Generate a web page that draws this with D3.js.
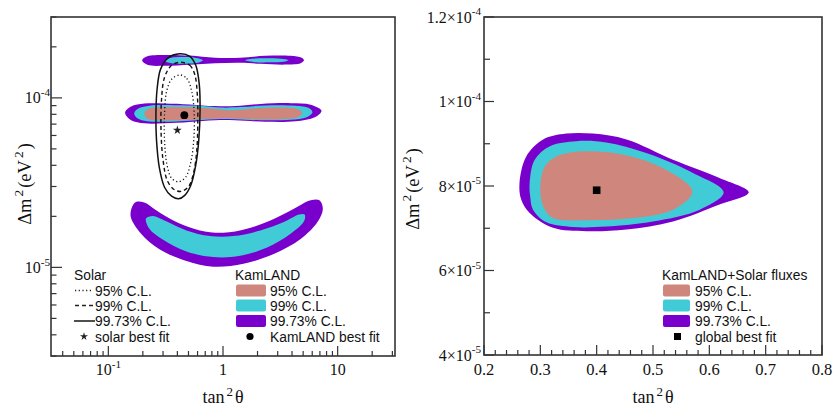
<!DOCTYPE html>
<html><head><meta charset="utf-8">
<script src="https://cdn.jsdelivr.net/npm/d3@7"></script>
<style>body{margin:0;background:#fff}svg{display:block}</style>
</head><body>
<svg id="c" width="835" height="409"></svg>
<script>
// ---------- DATA ----------
// Left panel: KamLAND allowed regions (tan^2 theta, Δm^2 in eV^2)
const kl9973Top = [[0.197,16.65e-5],[0.219,17.59e-5],[0.309,17.91e-5],[0.513,17.76e-5],[0.851,17.24e-5],[1.412,17.24e-5],[2.340,17.71e-5],[3.884,17.71e-5],[4.853,17.24e-5],[5.081,16.65e-5],[4.755,15.99e-5],[3.508,15.71e-5],[2.115,15.88e-5],[1.412,16.10e-5],[0.851,15.99e-5],[0.513,15.66e-5],[0.309,15.45e-5],[0.219,15.66e-5]];
const kl99TopA = [[0.309,16.54e-5],[0.356,17.24e-5],[0.464,17.40e-5],[0.603,17.12e-5],[0.667,16.65e-5],[0.603,16.10e-5],[0.464,15.92e-5],[0.356,15.99e-5]];
const kl99TopB = [[1.561,16.65e-5],[1.910,17.05e-5],[2.589,17.12e-5],[3.371,16.93e-5],[3.730,16.65e-5],[3.371,16.32e-5],[2.589,16.21e-5],[1.910,16.25e-5]];
const kl9973Mid = [[0.140,8.18e-5],[0.158,8.88e-5],[0.206,9.25e-5],[0.309,9.27e-5],[0.513,9.15e-5],[0.851,8.94e-5],[1.275,8.94e-5],[2.115,9.21e-5],[3.884,9.31e-5],[5.823,9.12e-5],[7.228,8.40e-5],[6.310,7.69e-5],[4.297,7.28e-5],[2.340,7.23e-5],[1.275,7.38e-5],[0.851,7.38e-5],[0.513,7.20e-5],[0.309,7.08e-5],[0.206,7.08e-5],[0.158,7.38e-5]];
const kl99Mid = [[0.168,8.12e-5],[0.186,8.70e-5],[0.228,9.00e-5],[0.378,9.06e-5],[0.628,8.98e-5],[0.980,8.76e-5],[1.412,8.82e-5],[2.340,9.03e-5],[4.297,8.98e-5],[5.594,8.70e-5],[6.026,8.23e-5],[5.370,7.69e-5],[3.884,7.43e-5],[2.115,7.38e-5],[1.275,7.48e-5],[0.851,7.48e-5],[0.513,7.33e-5],[0.309,7.23e-5],[0.219,7.28e-5],[0.179,7.59e-5]];
const kl95Mid = [[0.206,8.07e-5],[0.219,8.58e-5],[0.279,8.79e-5],[0.513,8.79e-5],[0.851,8.61e-5],[1.152,8.46e-5],[1.727,8.64e-5],[3.170,8.76e-5],[4.477,8.58e-5],[4.920,8.18e-5],[4.477,7.69e-5],[3.170,7.48e-5],[1.727,7.48e-5],[1.152,7.59e-5],[0.769,7.53e-5],[0.464,7.40e-5],[0.279,7.36e-5],[0.219,7.53e-5]];
const kl9973Low = [[0.174,2.43e-5],[0.206,2.41e-5],[0.261,2.17e-5],[0.392,1.85e-5],[0.628,1.65e-5],[1.006,1.60e-5],[1.616,1.69e-5],[2.589,1.89e-5],[4.153,2.22e-5],[5.823,2.49e-5],[6.932,2.49e-5],[7.425,2.22e-5],[6.668,1.85e-5],[4.755,1.47e-5],[2.770,1.20e-5],[1.509,1.05e-5],[0.822,1.01e-5],[0.480,1.09e-5],[0.279,1.28e-5],[0.193,1.58e-5],[0.157,1.98e-5],[0.161,2.27e-5]];
const kl99Low = [[0.213,1.94e-5],[0.244,2.01e-5],[0.320,1.87e-5],[0.480,1.65e-5],[0.769,1.53e-5],[1.232,1.53e-5],[2.115,1.65e-5],[3.391,1.85e-5],[4.596,2.05e-5],[5.157,2.05e-5],[5.086,1.87e-5],[3.884,1.58e-5],[2.423,1.31e-5],[1.412,1.17e-5],[0.822,1.15e-5],[0.480,1.24e-5],[0.298,1.46e-5],[0.228,1.69e-5]];
// Solar contours
const solar9973 = [[0.419,18.20e-5],[0.513,17.59e-5],[0.579,15.56e-5],[0.621,12.00e-5],[0.631,8.52e-5],[0.615,5.65e-5],[0.579,4.02e-5],[0.524,3.05e-5],[0.464,2.66e-5],[0.410,2.54e-5],[0.356,2.63e-5],[0.309,2.97e-5],[0.279,3.85e-5],[0.263,5.65e-5],[0.260,7.96e-5],[0.266,11.20e-5],[0.285,14.73e-5],[0.328,17.12e-5]];
const solar99 = [[0.428,16.21e-5],[0.513,15.56e-5],[0.567,13.75e-5],[0.597,10.46e-5],[0.603,7.43e-5],[0.591,4.93e-5],[0.556,3.65e-5],[0.503,3.01e-5],[0.436,2.81e-5],[0.378,2.87e-5],[0.328,3.23e-5],[0.300,4.30e-5],[0.288,6.48e-5],[0.291,9.77e-5],[0.309,13.20e-5],[0.356,15.56e-5]];
const solar95 = [[0.419,13.66e-5],[0.483,13.02e-5],[0.534,10.90e-5],[0.561,7.96e-5],[0.556,5.65e-5],[0.524,4.18e-5],[0.473,3.41e-5],[0.410,3.20e-5],[0.356,3.36e-5],[0.325,4.02e-5],[0.309,5.65e-5],[0.309,7.96e-5],[0.322,10.90e-5],[0.356,12.85e-5]];
const solarBest = [0.40, 6.45e-5];
const kamlandBest = [0.46, 7.9e-5];
// Right panel: KamLAND + Solar fluxes
const glob9973 = [[0.263,8.07e-5],[0.275,8.70e-5],[0.305,9.10e-5],[0.346,9.24e-5],[0.3935,9.24e-5],[0.453,9.10e-5],[0.5355,8.62e-5],[0.618,8.19e-5],[0.670,7.85e-5],[0.618,7.56e-5],[0.5355,7.16e-5],[0.453,6.97e-5],[0.382,6.93e-5],[0.3225,7.01e-5],[0.281,7.36e-5],[0.266,7.68e-5]];
const glob99 = [[0.281,8.07e-5],[0.290,8.62e-5],[0.317,8.94e-5],[0.364,9.06e-5],[0.417,9.03e-5],[0.488,8.78e-5],[0.571,8.31e-5],[0.6255,7.85e-5],[0.583,7.44e-5],[0.500,7.16e-5],[0.417,7.04e-5],[0.358,7.03e-5],[0.311,7.14e-5],[0.287,7.44e-5],[0.282,7.75e-5]];
const glob95 = [[0.300,7.99e-5],[0.308,8.46e-5],[0.3285,8.70e-5],[0.376,8.82e-5],[0.441,8.76e-5],[0.512,8.46e-5],[0.570,7.87e-5],[0.5355,7.44e-5],[0.4645,7.24e-5],[0.382,7.19e-5],[0.3225,7.24e-5],[0.305,7.52e-5]];
const globalBest = [0.40, 7.9e-5];
// Ticks / labels
const leftXMajor = [0.1, 1, 10];
const leftXLabels = [["10","-1"],["1",""],["10",""]];
const leftYMajor = [1e-5, 1e-4];
const leftYLabels = [["10","-5"],["10","-4"]];
const rightXMajor = [0.2,0.3,0.4,0.5,0.6,0.7,0.8];
const rightXLabels = ["0.2","0.3","0.4","0.5","0.6","0.7","0.8"];
const rightXMinor = [0.22,0.24,0.26,0.28,0.32,0.34,0.36,0.38,0.42,0.44,0.46,0.48,0.52,0.54,0.56,0.58,0.62,0.64,0.66,0.68,0.72,0.74,0.76,0.78];
const rightYMajor = [4e-5,6e-5,8e-5,1e-4,1.2e-4];
const rightYLabels = [["4\u00d710","-5"],["6\u00d710","-5"],["8\u00d710","-5"],["1\u00d710","-4"],["1.2\u00d710","-4"]];
const rightYMinor = [5e-5,7e-5,9e-5,1.1e-4];
const clLabels = ["95% C.L.","99% C.L.","99.73% C.L."];
const colors = {c95:"#cf877d", c99:"#41cbd6", c9973:"#7900cc"};

// ---------- DRAW ----------
const svg = d3.select("#c");
const serif = "'Liberation Serif','Times New Roman',serif";
const sans = "'Liberation Sans',Arial,Helvetica,sans-serif";

const L = {x0:51,x1:395,y0:17,y1:356};
const R = {x0:484,x1:822,y0:17,y1:355};
const xL = d3.scaleLog().domain([Math.pow(10,-1.5),Math.pow(10,1.5)]).range([L.x0,L.x1]);
const yL = d3.scaleLog().domain([3e-6,3e-4]).range([L.y1,L.y0]);
const xR = d3.scaleLinear().domain([0.2,0.8]).range([R.x0,R.x1]);
const yR = d3.scaleLinear().domain([4e-5,1.2e-4]).range([R.y1,R.y0]);

const defs = svg.append("defs");
defs.append("clipPath").attr("id","clipL").append("rect").attr("x",L.x0).attr("y",L.y0).attr("width",L.x1-L.x0).attr("height",L.y1-L.y0);
defs.append("clipPath").attr("id","clipR").append("rect").attr("x",R.x0).attr("y",R.y0).attr("width",R.x1-R.x0).attr("height",R.y1-R.y0);

function shape(g, pts, xs, ys, fill){
  const line = d3.line().x(d=>xs(d[0])).y(d=>ys(d[1])).curve(d3.curveCatmullRomClosed.alpha(0.5));
  return g.append("path").attr("d", line(pts)).attr("fill", fill||"none");
}

// Left panel
const gL = svg.append("g").attr("clip-path","url(#clipL)");
[kl9973Top,kl9973Mid,kl9973Low].forEach(p=>shape(gL,p,xL,yL,colors.c9973));
[kl99TopA,kl99TopB,kl99Mid,kl99Low].forEach(p=>shape(gL,p,xL,yL,colors.c99));
shape(gL,kl95Mid,xL,yL,colors.c95);
shape(gL,solar9973,xL,yL).attr("stroke","#111").attr("stroke-width",1.5);
shape(gL,solar99,xL,yL).attr("stroke","#111").attr("stroke-width",1.4).attr("stroke-dasharray","4,3");
shape(gL,solar95,xL,yL).attr("stroke","#111").attr("stroke-width",1.3).attr("stroke-dasharray","1.2,2.5");
gL.append("path").attr("d",d3.symbol(d3.symbolStar,24)()).attr("transform",`translate(${xL(solarBest[0])},${yL(solarBest[1])})`).attr("fill","#222");
gL.append("circle").attr("cx",xL(kamlandBest[0])).attr("cy",yL(kamlandBest[1])).attr("r",3.9).attr("fill","#000");

// Right panel
const gR = svg.append("g").attr("clip-path","url(#clipR)");
shape(gR,glob9973,xR,yR,colors.c9973);
shape(gR,glob99,xR,yR,colors.c99);
shape(gR,glob95,xR,yR,colors.c95);
gR.append("rect").attr("x",xR(globalBest[0])-3.8).attr("y",yR(globalBest[1])-3.8).attr("width",7.6).attr("height",7.6).attr("fill","#000");

// Axes (inward ticks)
function ticksX(xs, vals, y, len){ svg.append("g").selectAll("line").data(vals).join("line")
  .attr("x1",d=>xs(d)).attr("x2",d=>xs(d)).attr("y1",y).attr("y2",y-len).attr("stroke","#333").attr("stroke-width",1.2); }
function ticksY(ys, vals, x, len){ svg.append("g").selectAll("line").data(vals).join("line")
  .attr("y1",d=>ys(d)).attr("y2",d=>ys(d)).attr("x1",x).attr("x2",x+len).attr("stroke","#333").attr("stroke-width",1.2); }

const lxMinor = xL.ticks().filter(v=>!leftXMajor.some(m=>Math.abs(m-v)/m<1e-6));
const lyMinor = yL.ticks().filter(v=>!leftYMajor.some(m=>Math.abs(m-v)/m<1e-6));
ticksX(xL, leftXMajor, L.y1, 10); ticksX(xL, lxMinor, L.y1, 5);
ticksY(yL, leftYMajor, L.x0, 11); ticksY(yL, lyMinor, L.x0, 5.5);
ticksX(xR, rightXMajor, R.y1, 10); ticksX(xR, rightXMinor, R.y1, 5);
ticksY(yR, rightYMajor, R.x0, 10); ticksY(yR, rightYMinor, R.x0, 6);

// frames
[L,R].forEach(f=>svg.append("rect").attr("x",f.x0).attr("y",f.y0).attr("width",f.x1-f.x0).attr("height",f.y1-f.y0)
  .attr("fill","none").attr("stroke","#333").attr("stroke-width",1.6));

function supText(x,y,base,exp,anchor,size){
  const t = svg.append("text").attr("x",x).attr("y",y).attr("text-anchor",anchor).attr("font-family",serif).attr("font-size",size).attr("fill","#111");
  t.append("tspan").text(base);
  if(exp) t.append("tspan").attr("dy",-size*0.45).attr("font-size",size*0.7).text(exp);
  return t;
}
leftXMajor.forEach((v,i)=>supText(xL(v),375,leftXLabels[i][0],leftXLabels[i][1],"middle",16));
leftYMajor.forEach((v,i)=>supText(50,yL(v)+5.5,leftYLabels[i][0],leftYLabels[i][1],"end",16));
rightXMajor.forEach((v,i)=>supText(xR(v),375,rightXLabels[i],"","middle",16.5));
rightYMajor.forEach((v,i)=>supText(481,yR(v)+5.5,rightYLabels[i][0],rightYLabels[i][1],"end",16));

// axis titles
function tanTitle(cx){
  const t = svg.append("text").attr("x",cx).attr("y",403).attr("text-anchor","middle").attr("font-family",serif).attr("font-size",18).attr("fill","#111");
  t.append("tspan").text("tan");
  t.append("tspan").attr("dy",-7.5).attr("dx",2).attr("font-size",13).text("2");
  t.append("tspan").attr("dy",7.5).attr("dx",2).text("\u03b8");
}
tanTitle((L.x0+L.x1)/2); tanTitle((R.x0+R.x1)/2);
function dmTitle(cx,cy){
  const t = svg.append("text").attr("transform",`translate(${cx},${cy}) rotate(-90)`).attr("text-anchor","middle")
    .attr("font-family",serif).attr("font-size",18.5).attr("fill","#111");
  t.append("tspan").text("\u0394m");
  t.append("tspan").attr("dy",-8).attr("dx",2).attr("font-size",13.5).text("2");
  t.append("tspan").attr("dy",8).attr("dx",2).text("(eV");
  t.append("tspan").attr("dy",-8).attr("dx",2).attr("font-size",13.5).text("2");
  t.append("tspan").attr("dy",8).attr("dx",2).text(")");
}
dmTitle(31,184); dmTitle(419,189);

// Legends
function lt(x,y,s){ return svg.append("text").attr("x",x).attr("y",y).attr("font-family",sans).attr("font-size",13.8).attr("fill","#111").text(s); }
const legY = [290.5,305.5,321,336.5];
// Solar legend
lt(74,280,"Solar");
lt(95,legY[0]+5,clLabels[0]); lt(95,legY[1]+5,clLabels[1]); lt(95,legY[2]+5,clLabels[2]); lt(95,legY[3]+5,"solar best fit");
svg.append("line").attr("x1",75).attr("x2",92).attr("y1",legY[0]).attr("y2",legY[0]).attr("stroke","#222").attr("stroke-width",1.3).attr("stroke-dasharray","1.2,2.5");
svg.append("line").attr("x1",75).attr("x2",93).attr("y1",legY[1]).attr("y2",legY[1]).attr("stroke","#222").attr("stroke-width",1.4).attr("stroke-dasharray","4,3");
svg.append("line").attr("x1",74).attr("x2",95).attr("y1",legY[2]).attr("y2",legY[2]).attr("stroke","#222").attr("stroke-width",1.6);
svg.append("path").attr("d",d3.symbol(d3.symbolStar,20)()).attr("transform",`translate(84,${legY[3]})`).attr("fill","#222");
// KamLAND legend
lt(235,280,"KamLAND");
[colors.c95,colors.c99,colors.c9973].forEach((c,i)=>{
  svg.append("rect").attr("x",236).attr("y",legY[i]-6).attr("width",30).attr("height",12).attr("rx",2).attr("fill",c);
  lt(270,legY[i]+5,clLabels[i]);
});
svg.append("circle").attr("cx",250).attr("cy",legY[3]).attr("r",3.6).attr("fill","#000");
lt(270,legY[3]+5,"KamLAND best fit");
// Right legend
lt(662,280,"KamLAND+Solar fluxes");
[colors.c95,colors.c99,colors.c9973].forEach((c,i)=>{
  svg.append("rect").attr("x",663).attr("y",legY[i]-6).attr("width",27).attr("height",12).attr("rx",2).attr("fill",c);
  lt(695,legY[i]+5,clLabels[i]);
});
svg.append("rect").attr("x",674).attr("y",legY[3]-3.5).attr("width",7).attr("height",7).attr("fill","#000");
lt(695,legY[3]+5,"global best fit");
</script>
</body></html>
